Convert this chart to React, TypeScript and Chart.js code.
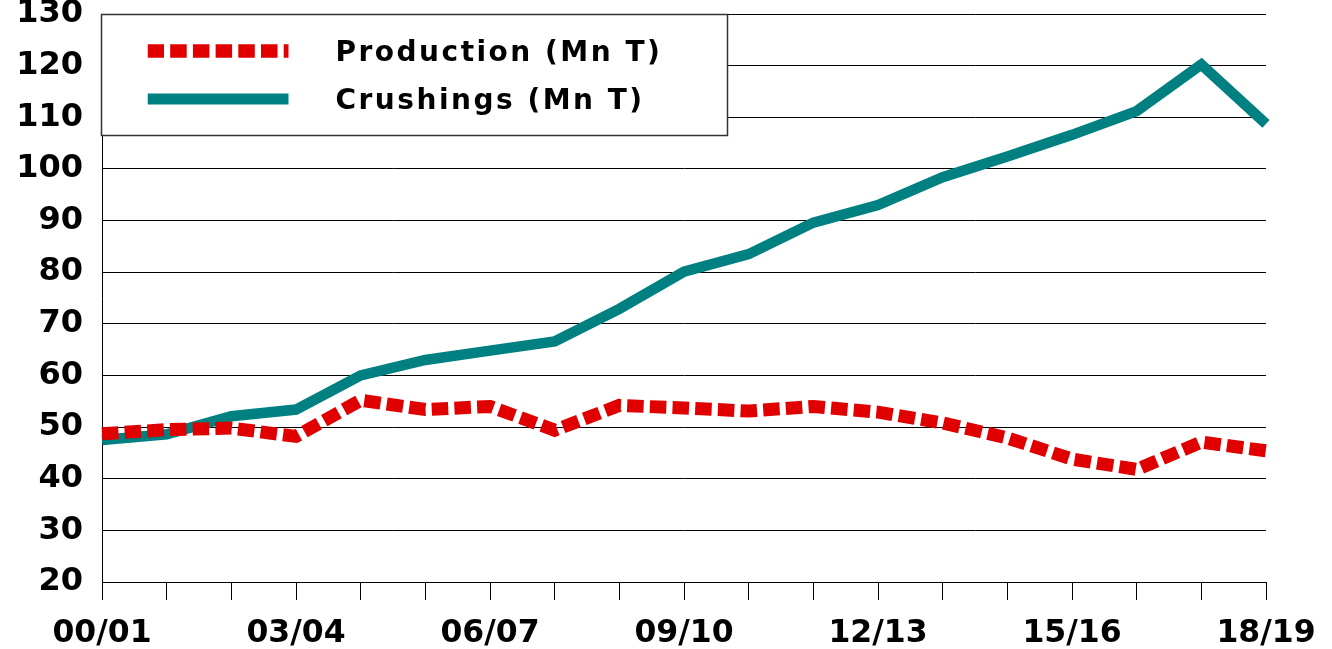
import React, { useEffect, useRef } from 'react';
import { Chart, registerables } from 'chart.js';

Chart.register(...registerables);

const categories = [
  '00/01', '01/02', '02/03', '03/04', '04/05', '05/06', '06/07', '07/08', '08/09', '09/10',
  '10/11', '11/12', '12/13', '13/14', '14/15', '15/16', '16/17', '17/18', '18/19',
];
const production = [48.7, 49.5, 49.8, 48.2, 55.2, 53.4, 54.0, 49.4, 54.2, 53.7, 53.1, 54.0, 52.9, 50.8, 47.9, 43.8, 41.8, 47.1, 45.4];
const crushings = [47.5, 48.6, 52.1, 53.4, 60.0, 63.0, 64.8, 66.6, 72.9, 80.1, 83.5, 89.6, 93.0, 98.4, 102.4, 106.6, 111.2, 120.2, 108.7];
const xTickLabels = ['00/01', '03/04', '06/07', '09/10', '12/13', '15/16', '18/19'];
const yMin = 20;
const yMax = 130;
const yStep = 10;

const FONT = '"DejaVu Sans", "Liberation Sans", Arial, sans-serif';

const boxLegend = {
  id: 'boxLegend',
  beforeDatasetsDraw(chart: any) {
    const { ctx, chartArea } = chart;
    const x0 = chartArea.left - 0.5;
    const y0 = chartArea.top + 0.5;
    const w = 626;
    const h = 121;
    ctx.save();
    ctx.fillStyle = '#ffffff';
    ctx.fillRect(x0, y0, w, h);
    ctx.strokeStyle = '#333333';
    ctx.lineWidth = 1.5;
    ctx.setLineDash([]);
    ctx.strokeRect(x0, y0, w, h);
    const rowY = [y0 + 36.5, y0 + 84.5];
    const lineX0 = x0 + 46;
    const lineX1 = x0 + 187;
    const textX = x0 + 234;
    chart.data.datasets.forEach((ds: any, i: number) => {
      const y = rowY[i];
      ctx.save();
      ctx.beginPath();
      ctx.rect(lineX0, y - 10, lineX1 - lineX0, 20);
      ctx.clip();
      ctx.beginPath();
      ctx.setLineDash(ds.borderDash || []);
      ctx.lineCap = 'butt';
      ctx.lineWidth = ds.legendLineWidth || ds.borderWidth;
      ctx.strokeStyle = ds.borderColor;
      ctx.moveTo(lineX0, y);
      ctx.lineTo(lineX1 + 20, y);
      ctx.stroke();
      ctx.restore();
      ctx.save();
      ctx.setLineDash([]);
      ctx.fillStyle = '#000000';
      ctx.font = `bold 28px ${FONT}`;
      (ctx as any).letterSpacing = '2.5px';
      ctx.textBaseline = 'middle';
      ctx.textAlign = 'left';
      ctx.fillText(ds.label, textX, y + 3);
      ctx.restore();
    });
    ctx.restore();
  },
};

export default function App() {
  const canvasRef = useRef<HTMLCanvasElement | null>(null);

  useEffect(() => {
    if (!canvasRef.current) return;
    const chart = new Chart(canvasRef.current, {
      type: 'line',
      data: {
        labels: categories,
        datasets: [
          {
            label: 'Production (Mn T)',
            data: production,
            borderColor: '#e00000',
            backgroundColor: '#e00000',
            borderWidth: 13,
            legendLineWidth: 13.5,
            borderDash: [16.5, 6.2],
            borderCapStyle: 'butt',
            borderJoinStyle: 'miter',
            pointRadius: 0,
            tension: 0,
            fill: false,
          } as any,
          {
            label: 'Crushings (Mn T)',
            data: crushings,
            borderColor: '#008080',
            backgroundColor: '#008080',
            borderWidth: 10.5,
            legendLineWidth: 11,
            borderCapStyle: 'butt',
            borderJoinStyle: 'miter',
            pointRadius: 0,
            tension: 0,
            fill: false,
          } as any,
        ],
      },
      options: {
        animation: false,
        responsive: false,
        devicePixelRatio: 1,
        layout: { padding: { left: 0, right: 66, top: 14, bottom: 0 } },
        plugins: {
          legend: { display: false },
          tooltip: { enabled: false },
          title: { display: false },
        },
        scales: {
          x: {
            type: 'category',
            offset: false,
            grid: {
              drawOnChartArea: false,
              drawTicks: true,
              tickLength: 18,
              color: '#000000',
              lineWidth: 1,
            },
            border: { display: true, color: '#000000', width: 1 },
            ticks: {
              autoSkip: false,
              maxRotation: 0,
              minRotation: 0,
              padding: 15,
              color: '#000000',
              font: { family: FONT, size: 31.5, weight: 'bold' },
              callback: (_v: any, index: number) =>
                xTickLabels.includes(categories[index]) ? categories[index] : '',
            },
            afterFit: (scale: any) => {
              scale.height = 67;
              scale.paddingLeft = 0;
              scale.paddingRight = 0;
            },
          },
          y: {
            min: yMin,
            max: yMax,
            grid: {
              drawTicks: false,
              color: '#000000',
              lineWidth: 1,
            },
            border: { display: true, color: '#000000', width: 1 },
            ticks: {
              stepSize: yStep,
              padding: 19,
              color: '#000000',
              font: { family: FONT, size: 32, weight: 'bold' },
            },
            afterFit: (scale: any) => {
              scale.width = 102;
              scale.paddingTop = 0;
              scale.paddingBottom = 0;
            },
          },
        },
      } as any,
      plugins: [boxLegend],
    });
    return () => chart.destroy();
  }, []);

  return (
    <canvas
      ref={canvasRef}
      width={1332}
      height={649}
      style={{ position: 'fixed', left: 0, top: 0, width: '1332px', height: '649px', display: 'block', background: '#ffffff' }}
    />
  );
}
